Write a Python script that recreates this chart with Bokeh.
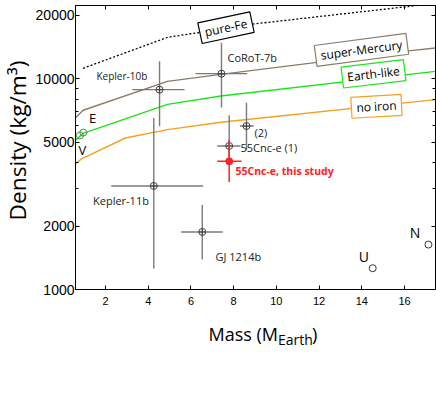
import math
from bokeh.plotting import figure
from bokeh.layouts import row, column
from bokeh.models import Range1d, FixedTicker, LinearAxis, LogAxis, Label
from bokeh.core.properties import value
from bokeh.embed import file_html
from bokeh.resources import INLINE

# ---- model curves (mass in Earth masses, density in kg/m^3) ----
fe_mass = [0.95, 4.9, 6.3, 9.0, 16.7]
fe_dens = [11200, 15700, 16500, 18200, 22300]
sm_mass = [0.6, 0.95, 4.9, 7.4, 16.4, 17.45]
sm_dens = [6530, 7080, 9710, 10480, 13610, 13970]
earth_mass = [0.6, 0.95, 4.9, 7.4, 17.45]
earth_dens = [5110, 5500, 7550, 8270, 10830]
noiron_mass = [0.6, 0.9, 2.93, 4.9, 7.4, 17.45]
noiron_dens = [3955, 4180, 5230, 5730, 6210, 7950]

# ---- exoplanets with error bars ----
exo_names = ["Kepler-10b", "CoRoT-7b", "(2)", "55Cnc-e (1)", "Kepler-11b", "GJ 1214b"]
exo_mass = [4.53, 7.43, 8.60, 7.79, 4.26, 6.53]
exo_mass_lo = [3.25, 6.21, 8.29, 7.23, 2.27, 5.54]
exo_mass_hi = [5.70, 8.63, 8.94, 8.32, 6.57, 7.49]
exo_dens = [8870, 10560, 5960, 4795, 3099, 1875]
exo_dens_lo = [5940, 7290, 4570, 3960, 1257, 1387]
exo_dens_hi = [12080, 14810, 7690, 6700, 6500, 2513]

this_name = ["55Cnc-e, this study"]
this_mass = [7.79]
this_mass_lo = [7.23]
this_mass_hi = [8.37]
this_dens = [4055]
this_dens_lo = [3235]
this_dens_hi = [5100]

# ---- solar system planets ----
rocky_names = ["V", "E"]
rocky_mass = [0.80, 0.96]
rocky_dens = [5380, 5550]
giant_names = ["U", "N"]
giant_mass = [14.51, 17.12]
giant_dens = [1262, 1633]

x_ticks = [2, 4, 6, 8, 10, 12, 14, 16]
y_ticks = [1000, 2000, 5000, 10000, 20000]
y_minor = [3000, 4000, 6000, 7000, 8000, 9000]

LEFT_W = 32
P_H = 314
p = figure(width=436 - LEFT_W, height=P_H, y_axis_type="log",
           x_range=Range1d(0.595, 17.45), y_range=Range1d(1000, 22230),
           output_backend="svg", toolbar_location=None,
           min_border_left=75 - LEFT_W, min_border_right=1, min_border_top=5, min_border_bottom=25)
p.grid.visible = False
p.outline_line_color = "black"
p.background_fill_color = "white"

def px(xp, yp):
    # helper: convert reference pixel position to data coordinates for annotation placement
    return ((xp - 62.3) / 21.36, 10 ** (4 - (yp - 78.3) / 211.0))

TICK_FONT = "Liberation Sans"
xa = p.xaxis[0]
xa.ticker = FixedTicker(ticks=x_ticks)
xa.major_tick_in = 4
xa.major_tick_out = 0
xa.minor_tick_in = 0
xa.minor_tick_out = 0
xa.major_label_text_font = TICK_FONT
xa.major_label_text_font_size = "11px"
xa.major_label_text_color = "black"
xa.major_label_standoff = 7
xa.axis_line_color = "black"
xa.major_tick_line_color = "black"

ya = p.yaxis[0]
ya.ticker = FixedTicker(ticks=y_ticks, minor_ticks=y_minor)
ya.major_tick_in = 4
ya.major_tick_out = 0
ya.minor_tick_in = 3
ya.minor_tick_out = 0
ya.major_label_text_font = TICK_FONT
ya.major_label_text_font_size = "14px"
ya.major_label_text_color = "black"
ya.major_label_standoff = 1
ya.axis_line_color = "black"
ya.major_tick_line_color = "black"
ya.minor_tick_line_color = "black"

top = LinearAxis(ticker=FixedTicker(ticks=x_ticks), major_tick_in=4, major_tick_out=0,
                 minor_tick_in=0, minor_tick_out=0, major_label_text_font_size="0px",
                 major_label_standoff=0, axis_line_color="black")
top.major_label_overrides = {t: "" for t in x_ticks}
p.add_layout(top, "above")
right = LogAxis(ticker=FixedTicker(ticks=y_ticks, minor_ticks=y_minor), major_tick_in=4, major_tick_out=0,
                minor_tick_in=3, minor_tick_out=0, major_label_text_font_size="0px",
                major_label_standoff=0, axis_line_color="black")
right.major_label_overrides = {t: "" for t in y_ticks}
p.add_layout(right, "right")

# model curves
p.line(fe_mass, fe_dens, line_color="black", line_width=1.3, line_dash="2 2")
p.line(sm_mass, sm_dens, line_color="#8c7a6b", line_width=1.4)
p.line(earth_mass, earth_dens, line_color="#19e619", line_width=1.4)
p.line(noiron_mass, noiron_dens, line_color="#f5a01e", line_width=1.4)

# error bars
gray = "#7a7a7a"
p.segment(exo_mass_lo, exo_dens, exo_mass_hi, exo_dens, line_color=gray, line_width=1.4)
p.segment(exo_mass, exo_dens_lo, exo_mass, exo_dens_hi, line_color=gray, line_width=1.4)
p.scatter(exo_mass, exo_dens, marker="circle_cross", size=7, fill_color=None,
          line_color="#444444", line_width=1)

red = "#ff2222"
p.segment(this_mass_lo, this_dens, this_mass_hi, this_dens, line_color=red, line_width=1.5)
p.segment(this_mass, this_dens_lo, this_mass, this_dens_hi, line_color=red, line_width=1.5)
p.scatter(this_mass, this_dens, marker="circle", size=7, fill_color=red, line_color=red)

p.scatter(rocky_mass, rocky_dens, marker="circle", size=7, fill_color=None,
          line_color="#4d8f4d", line_width=1)
p.scatter(giant_mass, giant_dens, marker="circle", size=7, fill_color=None,
          line_color="#333333", line_width=1)

LABEL_FONT = "Open Sans"

def add_label(xp, yp, text, size, align="left", color="#222222", style="normal", angle=0.0,
              box=None):
    x, y = px(xp, yp)
    kw = dict(x=x, y=y, text=text, text_font=LABEL_FONT, text_font_size=size,
              text_align=align, text_baseline="middle", text_color=color,
              text_font_style=style, angle=angle)
    if box is not None:
        kw.update(background_fill_color="white", border_line_color=box,
                  border_line_width=1.2, padding=(5, 2))
    p.add_layout(Label(**kw))

# model labels in boxes
add_label(225.5, 27.3, "pure-Fe", "12px", align="center", color="black", angle=math.radians(12), box="black")
add_label(361, 49.5, "super-Mercury", "12px", align="center", color="black", angle=math.radians(7.5), box="#8c7a6b")
add_label(373, 73.5, "Earth-like", "12px", align="center", color="black", angle=math.radians(6.8), box="#19e619")
add_label(376, 106, "no iron", "12px", align="center", color="black", angle=math.radians(3.3), box="#f5a01e")

# planet labels
add_label(96, 76, exo_names[0], "10px")
add_label(227, 57.3, exo_names[1], "11px")
add_label(254, 131.7, exo_names[2], "11px")
add_label(240, 146.7, exo_names[3], "11px")
add_label(92.5, 200, exo_names[4], "11px")
add_label(215, 256, exo_names[5], "11px")
add_label(235, 171, this_name[0], "10.5px", color=red, style="bold")

add_label(92, 117.5, rocky_names[1], "13px", align="center", color="black")
add_label(82, 150, rocky_names[0], "13px", align="center", color="black")
add_label(363.5, 256.5, giant_names[0], "14px", align="center", color="black")
add_label(414.5, 232.5, giant_names[1], "14px", align="center", color="black")

# ---- axis titles drawn in small companion canvases ----
def blank(w, h, x0, x1, y0, y1, bl=0, br=0):
    f = figure(width=w, height=h, x_range=Range1d(x0, x1), y_range=Range1d(y0, y1),
               output_backend="svg", toolbar_location=None,
               x_axis_location=None, y_axis_location=None,
               min_border_left=bl, min_border_right=br, min_border_top=0, min_border_bottom=0)
    f.grid.visible = False
    f.outline_line_color = None
    return f

# left strip (y data = 396 - page y)
ql = blank(LEFT_W, 396, 0, LEFT_W, 0, 396)
ql.text(x=[16.5], y=[396 - 140], text=["Density (kg/m³)"], angle=math.pi / 2,
        text_font=value(LABEL_FONT), text_font_size="22.7px", text_color="black",
        text_align="center", text_baseline="middle")

# bottom strip under the chart
QB_H = 396 - P_H
qb = blank(436 - LEFT_W, QB_H, 75, 435, 0, QB_H, bl=75 - LEFT_W, br=1)
qb.text(x=[208], y=[396 - 333], text=["Mass (M"], text_font=value(LABEL_FONT),
        text_font_size="18px", text_color="black", text_align="left", text_baseline="alphabetic")
qb.text(x=[277.5], y=[396 - 338.5], text=["Earth"], text_font=value(LABEL_FONT),
        text_font_size="14px", text_color="black", text_align="left", text_baseline="alphabetic")
qb.text(x=[311.5], y=[396 - 333], text=[")"], text_font=value(LABEL_FONT),
        text_font_size="18px", text_color="black", text_align="left", text_baseline="alphabetic")

layout = row(ql, column(p, qb))
open("out.html", "w").write(file_html(layout, INLINE))
